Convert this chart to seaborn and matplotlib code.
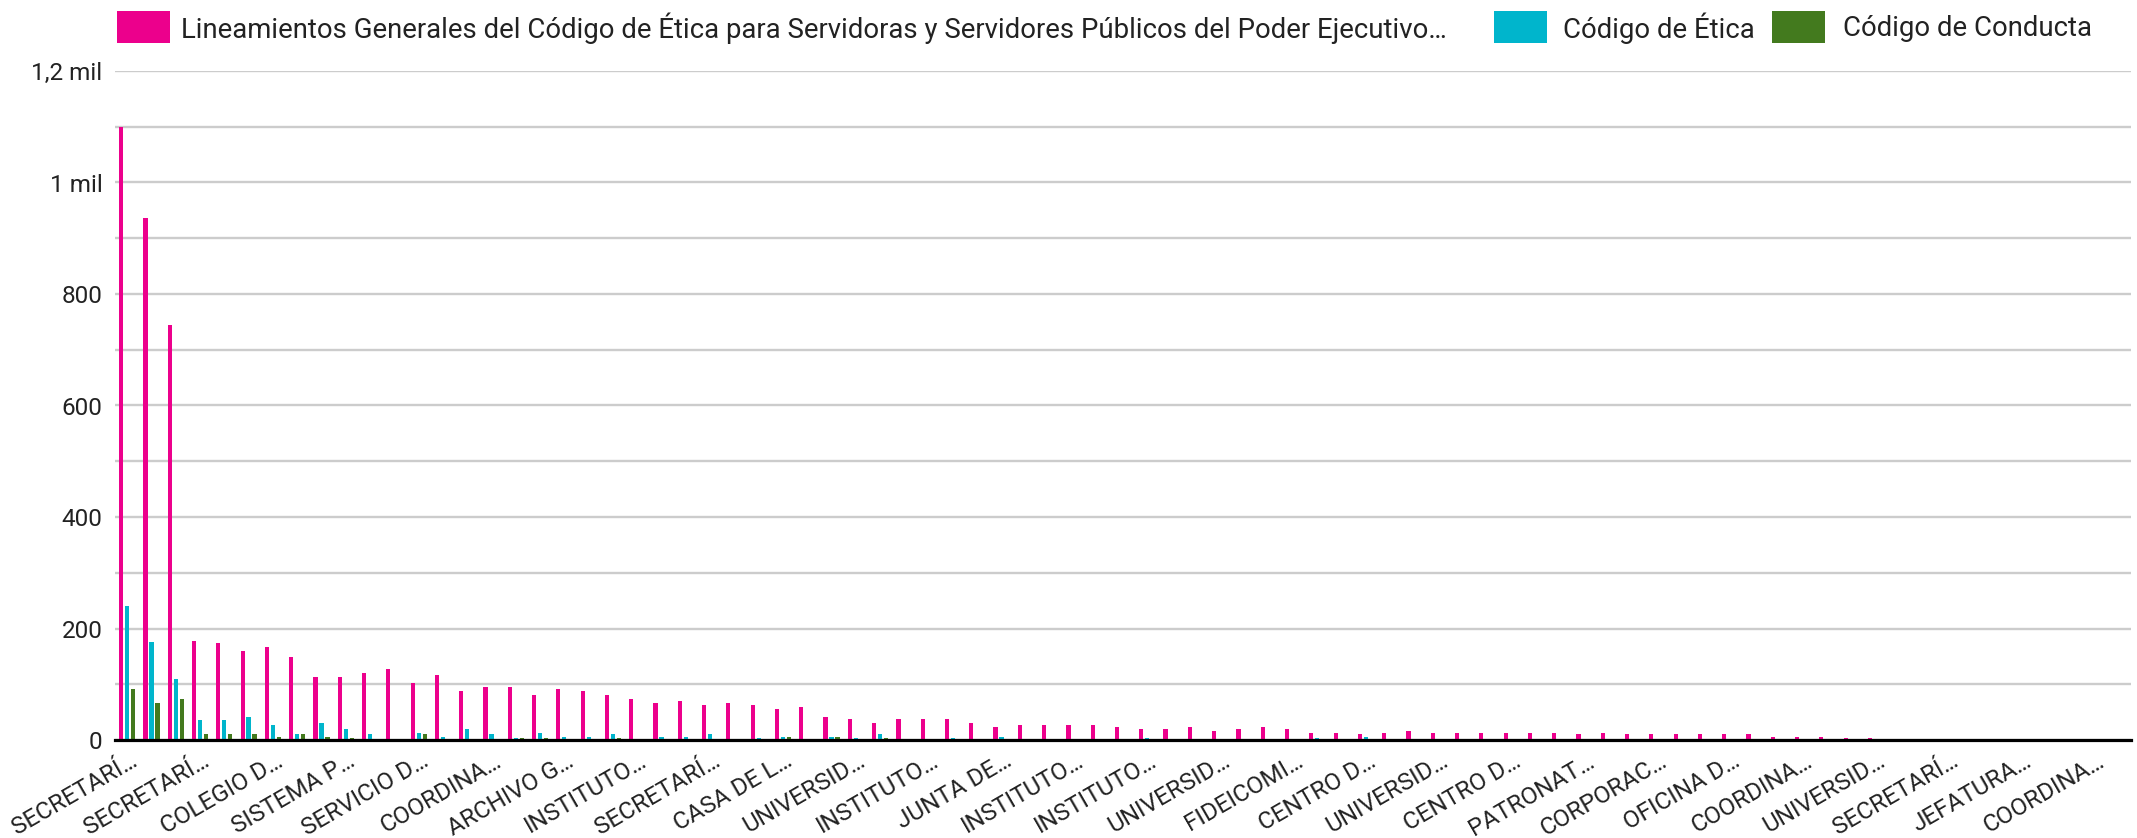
import pandas as pd
import numpy as np
import matplotlib
matplotlib.use("Agg")
import matplotlib.pyplot as plt
import matplotlib.transforms as mtransforms
from matplotlib.patches import Rectangle
import seaborn as sns

# series names (legend)
series = [
    "Lineamientos Generales del Código de Ética para Servidoras y Servidores Públicos del Poder Ejecutivo…",
    "Código de Ética",
    "Código de Conducta",
]
colors = ["#EC008C", "#00B5CC", "#437A1E"]

# one value per agency (83 agencies, sorted by first series)
lineamientos = [1100, 936, 744, 177, 174, 160, 167, 149, 113, 113, 120, 127, 102, 117, 88, 95,
                95, 81, 92, 88, 81, 74, 67, 70, 63, 67, 63, 56, 60, 42, 38, 31, 38, 38, 38, 31,
                24, 27, 27, 27, 27, 24, 20, 20, 24, 17, 20, 24, 20, 13, 13, 10, 13, 17, 13, 13,
                13, 13, 13, 13, 10, 13, 10, 10, 10, 10, 10, 10, 6, 6, 6, 4, 4,
                0, 0, 0, 0, 0, 0, 0, 0, 0, 0]
codigo_etica = [241, 176, 109, 35, 35, 42, 27, 10, 31, 20, 10, 0, 13, 6, 20, 10,
                4, 13, 6, 6, 10, 0, 6, 6, 10, 0, 4, 6, 0, 6, 4, 10, 0, 0, 4, 0,
                6, 0, 0, 0, 0, 0, 4, 0, 0, 0, 0, 0, 0, 4, 0, 6, 0, 0, 0, 0,
                0, 0, 0, 0, 0, 0, 0, 0, 0, 0, 0, 0, 0, 0, 0, 0, 0,
                0, 0, 0, 0, 0, 0, 0, 0, 0, 0]
codigo_conducta = [91, 66, 73, 10, 10, 10, 6, 10, 6, 4, 0, 0, 10, 0, 0, 0,
                   4, 4, 0, 0, 4, 0, 0, 0, 0, 0, 0, 6, 0, 6, 0, 4, 0, 0, 0, 0,
                   0, 0, 0, 0, 0, 0, 0, 0, 0, 0, 0, 0, 0, 0, 0, 0, 0, 0, 0, 0,
                   0, 0, 0, 0, 0, 0, 0, 0, 0, 0, 0, 0, 0, 0, 0, 0, 0,
                   0, 0, 0, 0, 0, 0, 0, 0, 0, 0]

# only every third agency gets a (truncated) label on the axis
tick_labels = ["SECRETARÍ…", "SECRETARÍ…", "COLEGIO D…", "SISTEMA P…", "SERVICIO D…",
               "COORDINA…", "ARCHIVO G…", "INSTITUTO…", "SECRETARÍ…", "CASA DE L…",
               "UNIVERSID…", "INSTITUTO…", "JUNTA DE…", "INSTITUTO…", "INSTITUTO…",
               "UNIVERSID…", "FIDEICOMI…", "CENTRO D…", "UNIVERSID…", "CENTRO D…",
               "PATRONAT…", "CORPORAC…", "OFICINA D…", "COORDINA…", "UNIVERSID…",
               "SECRETARÍ…", "JEFATURA…", "COORDINA…"]

y_ticks = [0, 200, 400, 600, 800, 1000, 1200]
y_tick_labels = ["0", "200", "400", "600", "800", "1 mil", "1,2 mil"]

n = len(lineamientos)
df = pd.DataFrame({
    "idx": np.tile(np.arange(n), 3),
    "serie": np.repeat(series, n),
    "valor": lineamientos + codigo_etica + codigo_conducta,
})

sns.set_theme(style="white")
plt.rcParams["font.family"] = ["Roboto", "DejaVu Sans"]

W, H = 2137, 838
fig = plt.figure(figsize=(W / 100, H / 100), dpi=100)
ax = fig.add_axes([115 / W, 98 / H, (2131 - 115) / W, (740 - 71) / H])

sns.barplot(data=df, x="idx", y="valor", hue="serie", hue_order=series,
            palette=colors, width=0.74, gap=0.3, saturation=1,
            linewidth=0, edgecolor="none",
            legend=False, ax=ax, errorbar=None)

ax.set_xlim(-0.5, n - 0.5)
ax.set_ylim(0, 1200)

# grid every 100, labels every 200
ax.set_yticks(range(0, 1201, 100))
ax.set_yticklabels([y_tick_labels[y_ticks.index(v)] if v in y_ticks else "" for v in range(0, 1201, 100)],
                   fontsize=17.5, color="#222222")
ax.yaxis.grid(True, color="#cccccc", linewidth=1.7)
ax.set_axisbelow(True)
ax.tick_params(axis="y", length=0, pad=9)

ax.set_xticks(range(0, n, 3))
ax.set_xticklabels(tick_labels, fontsize=17.5, color="#222222")
ax.tick_params(axis="x", length=0, pad=14)
offset = mtransforms.ScaledTranslation(8 / 100, 0, fig.dpi_scale_trans)
for lab in ax.get_xticklabels():
    lab.set_rotation(30)
    lab.set_ha("right")
    lab.set_va("center")
    lab.set_rotation_mode("anchor")
    lab.set_transform(lab.get_transform() + offset)

ax.set_xlabel("")
ax.set_ylabel("")
for s in ["top", "right", "left"]:
    ax.spines[s].set_visible(False)
ax.spines["bottom"].set_color("black")
ax.spines["bottom"].set_linewidth(2.3)

# legend on top
box_x = [117, 1494, 1772]
text_x = [181, 1563, 1843]
for bx, tx, lbl, c in zip(box_x, text_x, series, colors):
    fig.add_artist(Rectangle((bx / W, 1 - 43 / H), 53 / W, 32 / H,
                             transform=fig.transFigure, color=c, lw=0))
    fig.text(tx / W, 1 - 28 / H, lbl, fontsize=19.8, va="center", ha="left", color="#222222")

fig.savefig("out.png", dpi=100)
